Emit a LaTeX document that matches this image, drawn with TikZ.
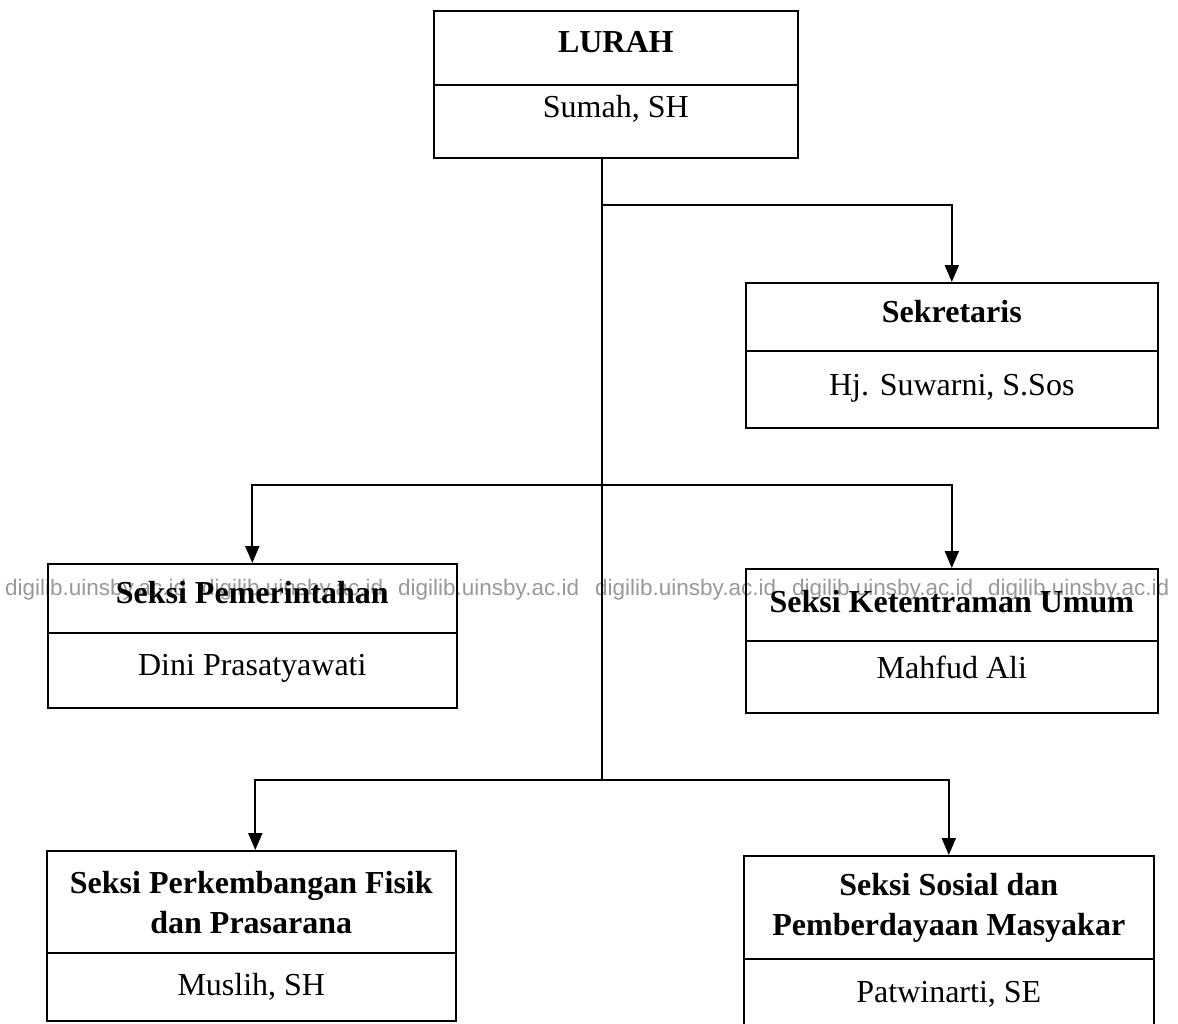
\documentclass[tikz,border=0pt]{standalone}
\usepackage{fontspec}
\setmainfont{Liberation Serif}
\newfontfamily\wmfont{Liberation Sans}
\usetikzlibrary{arrows.meta}
\begin{document}
\begin{tikzpicture}[x=1pt,y=-1pt,
  box/.style={draw,line width=1.6pt,anchor=north west,inner sep=0pt},
  ttl/.style={anchor=base,inner sep=0pt,font=\fontsize{32}{39}\selectfont\bfseries},
  nm/.style={anchor=base,inner sep=0pt,font=\fontsize{32}{39}\selectfont},
  conn/.style={line width=2pt},
  arr/.style={conn,-{Triangle[length=17pt,width=14pt]}},
  wm/.style={anchor=west,inner sep=0pt,text=black!40,font=\wmfont\fontsize{22.5}{26}\selectfont}]
\useasboundingbox (0,0) rectangle (1178,1023);
\clip (0,0) rectangle (1178,1023);
\fill[white] (0,0) rectangle (1178,1023);
% watermark
\foreach \i/\xx in {1/5,2/202,3/398,4/595,5/792,6/988}{
  \node[wm] (wm\i) at (\xx,590) {digilib.uinsby.ac.id};
}
% boxes
\node[box,minimum width=364pt,minimum height=74pt] (lurahT) at (433,10) {};
\node[box,minimum width=364pt,minimum height=73pt] (lurahN) at (433,84) {};
\node[box,minimum width=412pt,minimum height=68pt] (sekT) at (745,282) {};
\node[box,minimum width=412pt,minimum height=77pt] (sekN) at (745,350) {};
\node[box,minimum width=409pt,minimum height=69pt] (pemT) at (47,563) {};
\node[box,minimum width=409pt,minimum height=75pt] (pemN) at (47,632) {};
\node[box,minimum width=412pt,minimum height=72pt] (ketT) at (745,568) {};
\node[box,minimum width=412pt,minimum height=72pt] (ketN) at (745,640) {};
\node[box,minimum width=409pt,minimum height=102pt] (fisT) at (46,850) {};
\node[box,minimum width=409pt,minimum height=68pt] (fisN) at (46,952) {};
\node[box,minimum width=410pt,minimum height=103pt] (sosT) at (743,855) {};
\node[box,minimum width=410pt,minimum height=85pt] (sosN) at (743,958) {};
% texts
\node[ttl] (lurahTt) at (lurahT.center |- 0,52) {LURAH};
\node[nm] (lurahNt) at (lurahN.center |- 0,117) {Sumah, SH};
\node[ttl] (sekTt) at (sekT.center |- 0,322) {Sekretaris};
\node[nm] (sekNt) at (sekN.center |- 0,395) {Hj. Suwarni, S.Sos};
\node[ttl] (pemTt) at (pemT.center |- 0,603) {Seksi Pemerintahan};
\node[nm] (pemNt) at (pemN.center |- 0,675) {Dini Prasatyawati};
\node[ttl] (ketTt) at (ketT.center |- 0,612) {Seksi Ketentraman Umum};
\node[nm] (ketNt) at (ketN.center |- 0,678) {Mahfud Ali};
\node[ttl] (fisTa) at (fisT.center |- 0,893) {Seksi Perkembangan Fisik};
\node[ttl] (fisTb) at (fisT.center |- 0,933) {dan Prasarana};
\node[nm] (fisNt) at (fisN.center |- 0,995) {Muslih, SH};
\node[ttl] (sosTa) at (sosT.center |- 0,895) {Seksi Sosial dan};
\node[ttl] (sosTb) at (sosT.center |- 0,935) {Pemberdayaan Masyakar};
\node[nm] (sosNt) at (sosN.center |- 0,1002) {Patwinarti, SE};
% connectors
\coordinate (j1) at (602,205);
\coordinate (j2) at (602,485);
\coordinate (j3) at (602,780);
\draw[conn] (j1 |- lurahN.south) -- (j3);
\draw[arr] (j1) -| (sekT.north);
\draw[arr] (j2) -| (pemT.north);
\draw[arr] (j2) -| (ketT.north);
\draw[arr] (j3) -| ([xshift=4pt]fisT.north);
\draw[arr] (j3) -| (sosT.north);
\end{tikzpicture}
\end{document}
